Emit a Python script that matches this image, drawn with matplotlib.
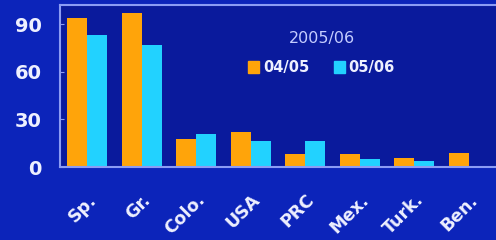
import matplotlib.pyplot as plt
import numpy as np
from matplotlib.patches import Patch
from matplotlib.transforms import ScaledTranslation

# Values
countries = ["Sp.", "Gr.", "Colo.", "USA", "PRC", "Mex.", "Turk.", "Ben."]
season_0405 = [94, 97, 17.5, 22, 8, 8, 6, 9]
season_0506 = [83, 77, 20.5, 16.5, 16.5, 5, 3.5, 0]
yticks = [0, 30, 60, 90]

outer_bg = "#0c24ba"
inner_bg = "#0a1a9c"
spine_col = "#8c9cf4"
orange = "#ffa40a"
cyan = "#22d2ff"
text_col = "#eef0ff"

fig = plt.figure(figsize=(4.96, 2.4), dpi=100, facecolor=outer_bg)
ax = fig.add_axes([0.121, 0.304, 0.879, 0.675], facecolor=inner_bg)

x = np.arange(len(countries))
w = 0.37
ax.bar(x - w / 2, season_0405, width=w, color=orange, label="04/05")
ax.bar(x + w / 2, season_0506, width=w, color=cyan, label="05/06")

ax.set_xlim(-0.5, 7.5)
ax.set_ylim(0, 102)
ax.set_yticks(yticks)
ax.set_xticks(x)
ax.set_xticklabels(countries, rotation=45, ha="right", rotation_mode="anchor",
                   fontsize=12.5, fontweight="bold", color=text_col)
# nudge the rotated labels a little to the left, like the original
shift = ScaledTranslation(-6 / 72, 0, fig.dpi_scale_trans)
for lab in ax.get_xticklabels():
    lab.set_transform(lab.get_transform() + shift)
for lab in ax.get_yticklabels():
    lab.set_fontweight("bold")
ax.tick_params(axis="y", direction="in", length=3, color=spine_col,
               labelsize=14, labelcolor=text_col, pad=13)
ax.tick_params(axis="x", length=0, pad=17)

for side in ["left", "top", "bottom"]:
    ax.spines[side].set_color(spine_col)
    ax.spines[side].set_linewidth(1.5)
ax.spines["right"].set_visible(False)

ax.text(0.6, 0.795, "2005/06", transform=ax.transAxes, ha="center", va="center",
        fontsize=11.5, color="#c4ccff")
handles = [Patch(color=orange, label="04/05"), Patch(color=cyan, label="05/06")]
leg = ax.legend(handles=handles, ncol=2, frameon=False,
                loc="center", bbox_to_anchor=(0.6, 0.615),
                handlelength=0.75, handleheight=0.85, handletextpad=0.25,
                columnspacing=1.7, prop={"weight": "bold", "size": 10.5})
for t in leg.get_texts():
    t.set_color(text_col)

fig.savefig("out.png", dpi=100, facecolor=outer_bg)
